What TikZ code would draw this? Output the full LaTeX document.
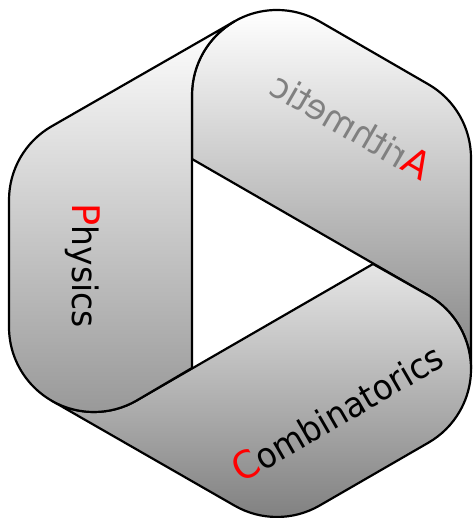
\documentclass[tikz,border=0pt]{standalone}
\usepackage{fontspec}
\setmainfont{DejaVu Sans}
\newfontfamily\initfont[FakeStretch=1.03]{DejaVu Sans}
\definecolor{ptop}{gray}{1.0}
\definecolor{pbot}{gray}{0.6}
\definecolor{atop}{gray}{1.0}
\definecolor{abot}{gray}{0.52}
\definecolor{ctop}{gray}{0.9}
\definecolor{cbot}{gray}{0.5}
\tikzset{
  x=1pt,y=1pt,
  band/.style={draw=black,line width=2.2pt,line join=round},
  label/.style={anchor=base west,inner sep=0pt,outer sep=0pt,transform shape,font=\fontsize{35}{38}\selectfont}
}
\newcommand{\initial}[1]{{\color{red}\initfont\fontsize{38}{40}\selectfont #1}}
\begin{document}
\begin{tikzpicture}
\useasboundingbox (0,0) rectangle (472,518);
\path[band,top color=atop,bottom color=abot] (192,359) -- (192,423) arc[start angle=180,end angle=60,radius=85]
  -- (428.5,433.6) arc[start angle=60,end angle=0,radius=85]
  -- (471,149) arc[start angle=0,end angle=60,radius=85] -- cycle;
\path[band,top color=ctop,bottom color=cbot] (373,254) -- (428.5,222.6) arc[start angle=60,end angle=-60,radius=85]
  -- (319.5,12.4) arc[start angle=-60,end angle=-120,radius=85]
  -- (51.5,117.4) arc[start angle=240,end angle=300,radius=85] -- cycle;
\path[band,top color=ptop,bottom color=pbot] (192,150) -- (192,423) arc[start angle=180,end angle=120,radius=85]
  -- (51.5,391.6) arc[start angle=120,end angle=180,radius=85]
  -- (9,191) arc[start angle=180,end angle=300,radius=85] -- cycle;
\node[label,rotate=-90,xscale=0.94] (physics) at (72,314.5) {\initial{P}hysics};
\node[label,rotate=30,xscale=0.93] (comb) at (241,34) {\initial{C}ombinatorics};
\node[label,rotate=-30,xscale=-0.96,text=gray] (arith) at (421,336) {\initial{A}rithmetic};
\end{tikzpicture}
\end{document}
